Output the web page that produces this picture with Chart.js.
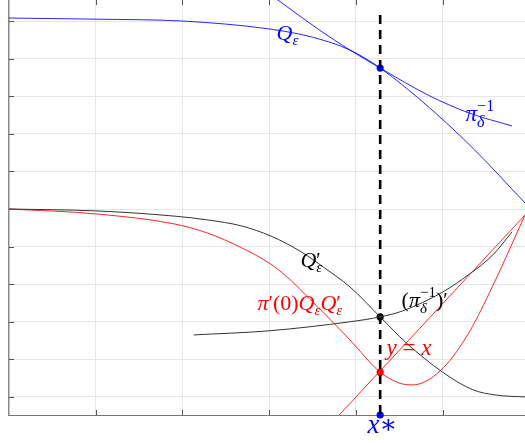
<!DOCTYPE html>
<html>
<head>
<meta charset="utf-8">
<script src="https://cdn.jsdelivr.net/npm/chart.js@4.4.0/dist/chart.umd.min.js"></script>
<style>
    html, body { margin: 0; padding: 0; background: #fff; }
    #wrap { width: 525px; height: 443px; }
</style>
</head>
<body>
<div id="wrap"><canvas id="fixedPointChart" width="525" height="443"></canvas></div>
<script>
// Grid positions (axis units)
const xTicks = [1, 2, 3, 4, 5];
const yTicks = [1, 2, 3, 4, 5, 6, 7, 8, 9, 10, 11];

// Q_eps (blue)
const qEpsX = [0, 1.0, 2.0, 3.0, 3.5, 3.93, 4.28, 4.85, 5.37, 5.95];
const qEpsY = [11.08, 11.05, 11.0, 10.79, 10.57, 10.23, 9.75, 8.69, 7.57, 6.16];

// pi_delta^-1 (blue)
const piInvX = [3.0, 3.10, 3.58, 3.93, 4.28, 4.85, 5.31, 5.80];
const piInvY = [11.72, 11.56, 10.76, 10.23, 9.75, 9.01, 8.55, 8.21];

// Q'_eps (black)
const dQEpsX = [0, 1.0, 1.91, 2.29, 2.68, 3.02, 3.37, 3.64, 3.93, 4.28, 4.58, 5.0, 5.35, 5.62, 5.95];
const dQEpsY = [6.0, 5.95, 5.81, 5.71, 5.55, 5.28, 4.86, 4.43, 3.93, 3.13, 2.44, 1.66, 1.19, 1.05, 1.0];

// pi'(0) Q_eps Q'_eps (red)
const prodX = [0, 1.0, 1.91, 2.29, 2.68, 3.02, 3.26, 3.43, 3.70, 3.93, 4.28, 4.50, 4.65, 4.97, 5.28, 5.54, 5.95];
const prodY = [6.0, 5.87, 5.60, 5.36, 4.97, 4.53, 4.08, 3.69, 3.07, 2.52, 1.66, 1.37, 1.32, 1.69, 2.62, 3.77, 5.84];

// (pi_delta^-1)' (black)
const dPiInvX = [2.13, 3.0, 3.93, 4.28, 4.54, 5.0, 5.31, 5.58, 5.80];
const dPiInvY = [2.65, 2.76, 3.0, 3.13, 3.29, 3.79, 4.27, 4.78, 5.39];

// y = x (red)
const diagX = [3.8, 5.95];
const diagY = [0.5, 5.84];

// fixed point x*
const xStar = 4.28;
const dashY = [11.16, 0.52];
const dotY = [9.75, 3.13, 1.66, 0.52];
const dotColors = ['#0000ff', '#000000', '#ff0000', '#0000ff'];

const xMin = 0, xMax = 5.95, yMin = 0.52, yMax = 11.56;

const toPts = (xs, ys) => xs.map((x, i) => ({ x: x, y: ys[i] }));

const curve = (xs, ys, color, width) => ({
    data: toPts(xs, ys),
    borderColor: color,
    borderWidth: width,
    pointRadius: 0,
    fill: false,
    cubicInterpolationMode: 'monotone'
});

// Math-ish labels, anchored in axis units
const labels = [
    { x: 3.085, y: 10.49, color: '#0000ff', runs: [
        { t: 'Q', f: 22, it: 1 }, { t: 'ε', f: 15, it: 1, dy: 5 }] },
    { x: 5.265, y: 8.34, color: '#0000ff', runs: [
        { t: 'π', f: 23, it: 1 }, { t: '−1', f: 16, dy: -10 }, { t: 'δ', f: 16, it: 1, dy: 6, back: 1 }] },
    { x: 3.36, y: 4.46, color: '#000000', runs: [
        { t: 'Q', f: 22, it: 1 }, { t: '′', f: 20 }, { t: 'ε', f: 15, it: 1, dy: 5, back: 1 }] },
    { x: 2.866, y: 3.31, color: '#ff0000', runs: [
        { t: 'π', f: 22, it: 1 }, { t: '′', f: 20 }, { t: '(0)', f: 22 },
        { t: 'Q', f: 22, it: 1 }, { t: 'ε', f: 15, it: 1, dy: 5 },
        { t: 'Q', f: 22, it: 1 }, { t: '′', f: 20 }, { t: 'ε', f: 15, it: 1, dy: 5, back: 1 }] },
    { x: 4.527, y: 3.39, color: '#000000', runs: [
        { t: '(', f: 22 }, { t: 'π', f: 22, it: 1 }, { t: '−1', f: 15, dy: -10 },
        { t: 'δ', f: 15, it: 1, dy: 6, back: 1 }, { t: ')', f: 22 }, { t: '′', f: 20 }] },
    { x: 4.354, y: 2.12, color: '#ff0000', runs: [
        { t: 'y', f: 23, it: 1 }, { t: ' = ', f: 23 }, { t: 'x', f: 23, it: 1 }] },
    { x: 4.135, y: 0.043, color: '#0000ff', runs: [
        { t: 'x', f: 27, it: 1 }, { t: '∗', f: 26 }] }
];

function drawMath(ctx, x0, y0, runs, color) {
    let x = x0, prevStart = x0, prevEnd = x0;
    ctx.fillStyle = color;
    ctx.textBaseline = 'alphabetic';
    ctx.textAlign = 'left';
    runs.forEach(r => {
        ctx.font = (r.it ? 'italic ' : '') + r.f + 'px "Liberation Serif", "DejaVu Serif", serif';
        const start = r.back ? prevStart : x;
        ctx.fillText(r.t, start, y0 + (r.dy || 0));
        const end = start + ctx.measureText(r.t).width;
        x = r.back ? Math.max(end, prevEnd) : end;
        prevStart = start;
        prevEnd = x;
    });
}

// inward tick marks + text labels
const decorPlugin = {
    id: 'decor',
    afterDraw(chart) {
        const ctx = chart.ctx;
        const area = chart.chartArea;
        const xs = chart.scales.x, ys = chart.scales.y;
        ctx.save();
        ctx.strokeStyle = '#555';
        ctx.lineWidth = 1;
        ctx.beginPath();
        xTicks.forEach(v => {
            const px = Math.round(xs.getPixelForValue(v)) + 0.5;
            ctx.moveTo(px, area.bottom); ctx.lineTo(px, area.bottom - 5);
            ctx.moveTo(px, area.top); ctx.lineTo(px, area.top + 5);
        });
        yTicks.forEach(v => {
            const py = Math.round(ys.getPixelForValue(v)) + 0.5;
            ctx.moveTo(area.left, py); ctx.lineTo(area.left + 5, py);
        });
        ctx.stroke();
        labels.forEach(l => {
            drawMath(ctx, xs.getPixelForValue(l.x), ys.getPixelForValue(l.y), l.runs, l.color);
        });
        ctx.restore();
    }
};

document.addEventListener('DOMContentLoaded', () => {
    const ctx = document.getElementById('fixedPointChart');
    new Chart(ctx, {
        type: 'line',
        data: {
            datasets: [
                curve(qEpsX, qEpsY, 'rgba(0, 0, 255, 0.85)', 1),
                curve(piInvX, piInvY, 'rgba(0, 0, 255, 0.85)', 1),
                curve(dQEpsX, dQEpsY, '#333333', 1),
                curve(prodX, prodY, 'rgba(255, 0, 0, 0.85)', 1),
                curve(dPiInvX, dPiInvY, '#333333', 1),
                curve(diagX, diagY, 'rgba(255, 0, 0, 0.85)', 1),
                {
                    data: dashY.map(y => ({ x: xStar, y: y })),
                    borderColor: '#000',
                    borderWidth: 2.6,
                    borderDash: [9, 6],
                    pointRadius: 0
                },
                {
                    data: dotY.map(y => ({ x: xStar, y: y })),
                    showLine: false,
                    pointRadius: 3.6,
                    pointBackgroundColor: dotColors,
                    pointBorderColor: dotColors,
                    pointBorderWidth: 0,
                    clip: false
                }
            ]
        },
        options: {
            responsive: false,
            animation: false,
            layout: { autoPadding: false, padding: { left: 9, right: 0, top: 0, bottom: 28 } },
            plugins: {
                legend: { display: false },
                tooltip: { enabled: false }
            },
            scales: {
                x: {
                    type: 'linear',
                    min: xMin,
                    max: xMax,
                    afterBuildTicks: s => { s.ticks = xTicks.map(v => ({ value: v })); },
                    ticks: { display: false },
                    grid: { color: '#e6e6e6', drawTicks: false },
                    border: { color: '#777', width: 1 }
                },
                y: {
                    type: 'linear',
                    min: yMin,
                    max: yMax,
                    afterBuildTicks: s => { s.ticks = yTicks.map(v => ({ value: v })); },
                    ticks: { display: false },
                    grid: { color: '#e6e6e6', drawTicks: false },
                    border: { color: '#888', width: 1.5 }
                }
            }
        },
        plugins: [decorPlugin]
    });
});
</script>
</body>
</html>
